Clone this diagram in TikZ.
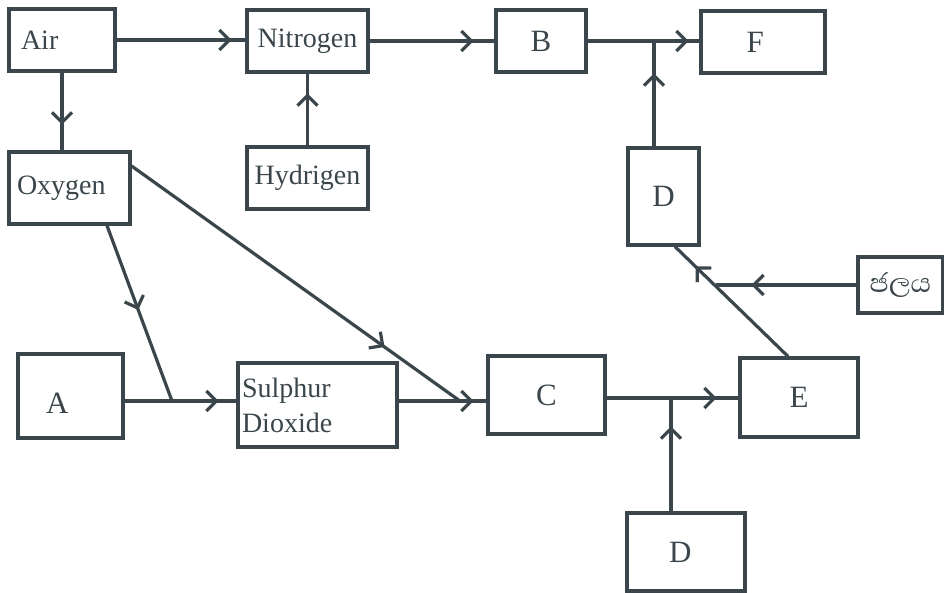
\documentclass[tikz,border=0pt]{standalone}
\usepackage{fontspec}
\setmainfont{Liberation Serif}
\newfontfamily\sinhalafont[Script=Sinhala]{Abhaya Libre}
\usetikzlibrary{arrows.meta,decorations.markings,calc}
\definecolor{ink}{HTML}{3A464B}
\begin{document}
\begin{tikzpicture}[x=1pt,y=-1pt,
  box/.style={draw=ink, line width=3.2pt, rectangle, inner sep=0pt, text=ink},
  word/.style={font=\fontsize{28}{35}\selectfont},
  letter/.style={font=\fontsize{31}{32}\selectfont},
  conn/.style={draw=ink, line width=3.2pt},
  midarr/.style={postaction={decorate}, decoration={markings,
    mark=at position #1 with {\arrow[ink]{Straight Barb[length=10pt,width=20pt,line width=3.2pt]}}}}
]
\useasboundingbox (0,0) rectangle (944,592);

% boxes
\node[box, word, minimum width=106pt, minimum height=62pt, text width=82pt, align=left] (air) at (62,40) {Air};
\node[box, word, minimum width=121pt, minimum height=62pt] (nitro) at (307.5,41) {Nitrogen};
\node[box, word, minimum width=121pt, minimum height=62pt] (hyd) at (307.5,178) {Hydrigen};
\node[box, word, minimum width=121pt, minimum height=72pt, text width=105pt, align=left] (oxy) at (69.5,188) {Oxygen};
\node[box, letter, minimum width=90pt, minimum height=62pt] (B) at (541,41) {B};
\node[box, letter, minimum width=124pt, minimum height=62pt, text width=33pt, align=left] (F) at (763,42) {F};
\node[box, letter, minimum width=71pt, minimum height=97pt] (Dtop) at (663.5,196.5) {D};
\node[box, font=\sinhalafont\fontsize{34}{36}\selectfont, minimum width=85pt, minimum height=56pt] (water) at (900.5,285) {ජලය};
\node[box, letter, minimum width=105pt, minimum height=84pt, text width=49pt, align=left, text height=34pt, text depth=0pt] (A) at (70.5,396) {A};
\node[box, word, minimum width=159pt, minimum height=84pt, text width=151pt, align=left] (so2) at (317.5,405) {Sulphur\\Dioxide};
\node[box, letter, minimum width=117pt, minimum height=78pt] (C) at (546.5,395) {C};
\node[box, letter, minimum width=118pt, minimum height=79pt] (E) at (799,397.5) {E};
\node[box, letter, minimum width=118pt, minimum height=78pt, text width=34pt, align=left] (Dbot) at (686,552) {D};

% junctions
\coordinate (jBF) at (654,41);
\coordinate (jW) at (716,285);
\coordinate (jA) at (172,401);
\coordinate (jC) at (460,401);
\coordinate (jCE) at (671,398);

% connectors
\draw[conn, midarr=115pt] (air.east) -- (air.east -| nitro.west);
\draw[conn, midarr=52pt] (air.south) -- (air.south |- oxy.north);
\draw[conn, midarr=52pt] (hyd.north) -- (nitro.south);
\draw[conn, midarr=104pt] (nitro.east) -- (B.west);
\draw[conn, midarr=101pt] (B.east) -- (B.east -| F.west);
\draw[conn, midarr=73pt] ([xshift=-9.5pt]Dtop.north) -- (jBF);
\draw[conn, midarr=105pt] (water.west) -- (jW);
\draw[conn, midarr=129pt] ([xshift=-11pt]E.north) -- ([xshift=11.5pt]Dtop.south);
\draw[conn, midarr=311pt] ([yshift=22pt]oxy.east) -- (jC);
\draw[conn, midarr=90pt] ([xshift=37.5pt]oxy.south) -- (jA);
\draw[conn, midarr=94pt] ([yshift=-5pt]A.east) -- ([yshift=-5pt]A.east -| so2.west);
\draw[conn, midarr=75pt] ([yshift=4pt]so2.east) -- ([yshift=4pt]so2.east -| C.west);
\draw[conn, midarr=110pt] ([yshift=-3pt]C.east) -- ([yshift=-3pt]C.east -| E.west);
\draw[conn, midarr=85pt] ([xshift=-15pt]Dbot.north) -- (jCE);
\end{tikzpicture}
\end{document}
